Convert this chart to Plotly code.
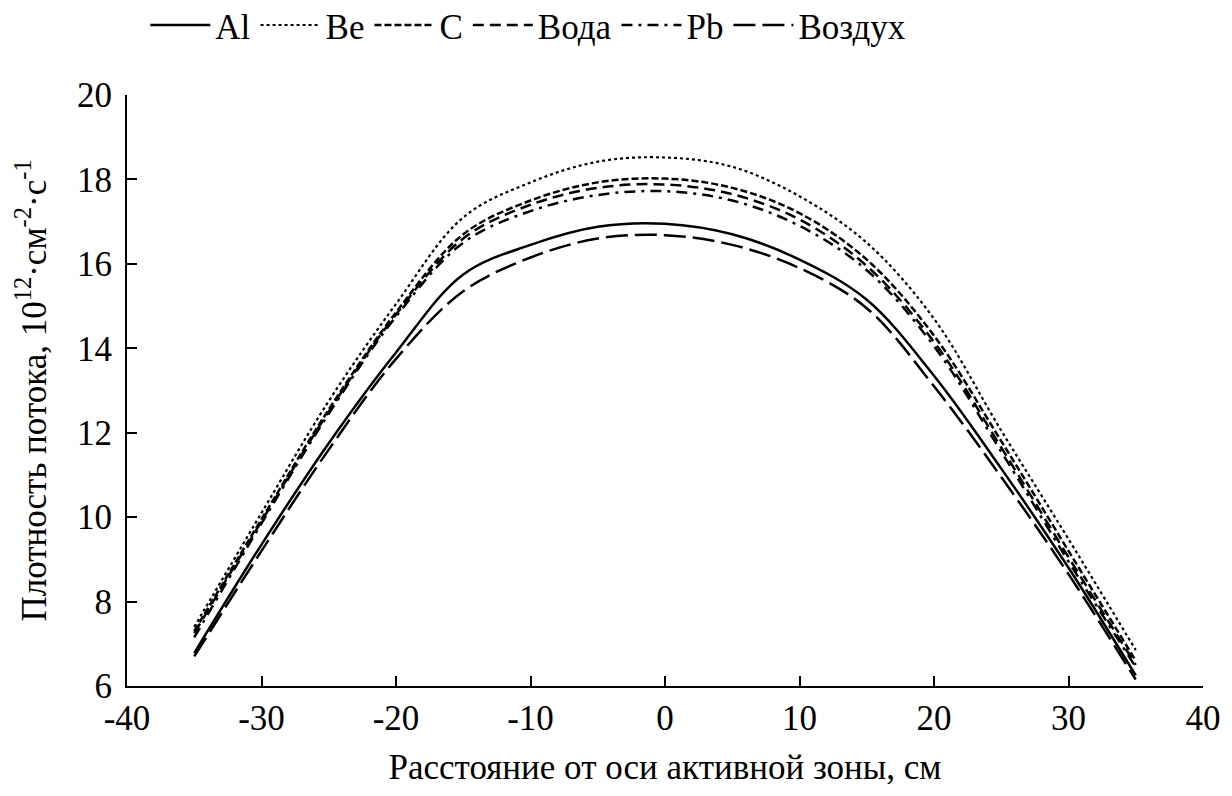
import plotly.graph_objects as go

# расстояние от оси активной зоны, см
x_cm = [-35, -30, -25, -20, -15, -10, -5, 0, 5, 10, 15, 20, 25, 30, 35]

al = [6.78, 9.35, 11.75, 13.9, 15.75, 16.45, 16.88, 16.95, 16.7, 16.1, 15.15, 13.35, 11.15, 8.8, 6.25]
be = [7.4, 10.1, 12.75, 15.05, 17.1, 17.93, 18.42, 18.52, 18.3, 17.6, 16.5, 14.7, 12.05, 9.48, 6.85]
c = [7.3, 9.95, 12.55, 14.85, 16.7, 17.5, 17.93, 18.02, 17.8, 17.2, 16.1, 14.3, 11.8, 9.2, 6.6]
voda = [7.25, 9.9, 12.5, 14.8, 16.6, 17.4, 17.8, 17.88, 17.65, 17.05, 15.95, 14.15, 11.65, 9.05, 6.5]
pb = [7.15, 9.85, 12.45, 14.75, 16.5, 17.25, 17.63, 17.72, 17.5, 16.9, 15.85, 14.05, 11.55, 8.95, 6.45]
vozduh = [6.7, 9.2, 11.6, 13.75, 15.35, 16.15, 16.6, 16.68, 16.45, 15.9, 14.95, 13.1, 10.95, 8.65, 6.15]

x_ticks = [-40, -30, -20, -10, 0, 10, 20, 30, 40]
y_ticks = [6, 8, 10, 12, 14, 16, 18, 20]

series = [
    ("Al", al, "solid", 2.5),
    ("Be", be, "dot", 2.2),
    ("C", c, "7px,3px", 2.5),
    ("Вода", voda, "11px,6px", 2.5),
    ("Pb", pb, "11px,6px,3px,6px", 2.5),
    ("Воздух", vozduh, "22px,7px", 2.5),
]

fig = go.Figure()
for name, values, dash, width in series:
    fig.add_trace(
        go.Scatter(
            x=x_cm,
            y=values,
            mode="lines",
            name=name,
            line=dict(color="black", width=width, dash=dash, shape="spline", smoothing=1.0),
        )
    )

serif = "Liberation Serif"
big = dict(family=serif, size=35, color="black")

# страница рисуется с отступом body 8px, поэтому размеры уменьшены на 8
fig.update_layout(
    width=1224,
    height=788,
    paper_bgcolor="white",
    plot_bgcolor="white",
    font=big,
    margin=dict(l=119, r=29, t=87, b=110, autoexpand=False),
    showlegend=True,
    legend=dict(
        orientation="h",
        x=0.017,
        xanchor="left",
        y=1.118,
        yanchor="middle",
        font=big,
        itemwidth=60,
    ),
)
fig.update_xaxes(
    range=[-40, 40],
    tickvals=x_ticks,
    ticktext=[str(v) for v in x_ticks],
    tickfont=big,
    ticklabelstandoff=0,
    showline=True,
    linecolor="black",
    linewidth=2,
    ticks="inside",
    ticklen=10,
    tickwidth=2,
    tickcolor="black",
    showgrid=False,
    zeroline=False,
    title=dict(text="Расстояние от оси активной зоны, см", font=big, standoff=17),
)
fig.update_yaxes(
    range=[6, 20],
    tickvals=y_ticks,
    ticktext=[str(v) for v in y_ticks],
    tickfont=big,
    ticklabelstandoff=6,
    showline=True,
    linecolor="black",
    linewidth=2,
    ticks="inside",
    ticklen=10,
    tickwidth=2,
    tickcolor="black",
    showgrid=False,
    zeroline=False,
    title=dict(
        text="Плотность потока, 10<sup>12</sup>·см<sup>-2</sup>·с<sup>-1</sup>",
        font=big,
        standoff=20,
    ),
)

fig.write_html("out.html")
